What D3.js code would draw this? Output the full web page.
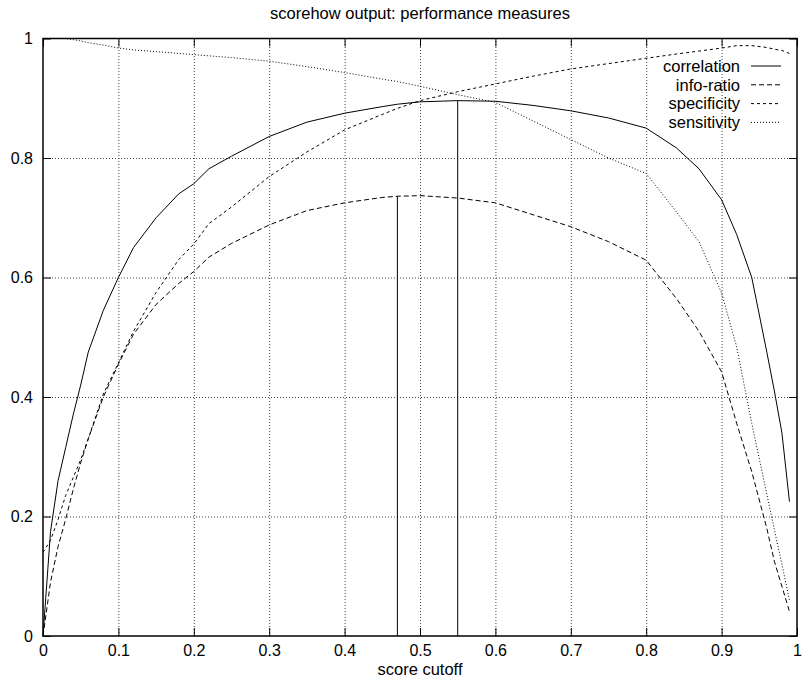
<!DOCTYPE html>
<html>
<head>
<meta charset="utf-8">
<script src="https://cdn.jsdelivr.net/npm/d3@7"></script>
<style>
  body { margin: 0; background: #fff; }
  svg text { font-family: "Liberation Sans", Arial, Helvetica, sans-serif; fill: #000; }
</style>
</head>
<body>
<svg id="chart" width="803" height="683"></svg>
<script>
// score cutoffs shared by all series
const cutoffs = [0, 0.01, 0.02, 0.03, 0.04, 0.05, 0.06, 0.08, 0.1, 0.12, 0.15, 0.18, 0.2, 0.22, 0.25,
    0.3, 0.35, 0.4, 0.45, 0.47, 0.5, 0.55, 0.6, 0.65, 0.7, 0.75, 0.8, 0.84, 0.87, 0.9, 0.92, 0.94,
    0.96, 0.97, 0.98, 0.99];

const correlation = [0, 0.175, 0.26, 0.315, 0.37, 0.42, 0.475, 0.545, 0.60, 0.65, 0.70, 0.74, 0.757, 0.782, 0.803,
    0.836, 0.86, 0.875, 0.886, 0.89, 0.894, 0.896, 0.895, 0.888, 0.879, 0.867, 0.85, 0.817, 0.782, 0.73, 0.672, 0.60,
    0.475, 0.41, 0.34, 0.225];

const infoRatio = [0, 0.09, 0.15, 0.195, 0.245, 0.29, 0.33, 0.40, 0.455, 0.505, 0.555, 0.59, 0.61, 0.634, 0.657,
    0.688, 0.712, 0.725, 0.734, 0.736, 0.737, 0.733, 0.725, 0.705, 0.685, 0.66, 0.629, 0.565, 0.51, 0.442, 0.356, 0.275,
    0.18, 0.125, 0.083, 0.041];

const specificity = [0.14, 0.16, 0.195, 0.235, 0.265, 0.295, 0.33, 0.405, 0.457, 0.51, 0.575, 0.63, 0.656, 0.69, 0.718,
    0.769, 0.81, 0.847, 0.873, 0.883, 0.896, 0.911, 0.924, 0.937, 0.949, 0.958, 0.967, 0.974, 0.979, 0.984, 0.988, 0.988,
    0.985, 0.982, 0.98, 0.975];

const sensitivity = [1.0, 1.0, 1.0, 1.0, 0.998, 0.996, 0.993, 0.989, 0.984, 0.981, 0.978, 0.975, 0.973, 0.971, 0.968,
    0.962, 0.953, 0.943, 0.932, 0.928, 0.92, 0.906, 0.893, 0.862, 0.831, 0.80, 0.774, 0.71, 0.66, 0.574, 0.484, 0.356,
    0.237, 0.178, 0.12, 0.06];

const seriesNames = ["correlation", "info-ratio", "specificity", "sensitivity"];
const seriesValues = [correlation, infoRatio, specificity, sensitivity];
const seriesDash = [null, "5,3", "3,3", "1,2"];

// vertical markers at the best cutoffs
const peakCutoffs = [0.47, 0.55];
const peakValues = [0.736, 0.896];

const xTicks = [0, 0.1, 0.2, 0.3, 0.4, 0.5, 0.6, 0.7, 0.8, 0.9, 1];
const yTicks = [0, 0.2, 0.4, 0.6, 0.8, 1];

const svg = d3.select("#chart"),
      plotLeft = 43, plotRight = 797, plotTop = 38.5, plotBottom = 636;

const x = d3.scaleLinear().domain([0, 1]).range([plotLeft, plotRight]);
const y = d3.scaleLinear().domain([0, 1]).range([plotBottom, plotTop]);

const fmt = d => d === 0 || d === 1 ? String(d) : d.toFixed(1);

// grid
svg.append("g")
    .attr("transform", `translate(0,${plotBottom})`)
    .call(d3.axisBottom(x).tickValues(xTicks.slice(1, -1)).tickSize(-(plotBottom - plotTop)).tickFormat(""))
    .call(g => g.select(".domain").remove())
    .selectAll("line").attr("stroke", "#444").attr("stroke-dasharray", "1,2");

svg.append("g")
    .attr("transform", `translate(${plotLeft},0)`)
    .call(d3.axisLeft(y).tickValues(yTicks.slice(1, -1)).tickSize(-(plotRight - plotLeft)).tickFormat(""))
    .call(g => g.select(".domain").remove())
    .selectAll("line").attr("stroke", "#444").attr("stroke-dasharray", "1,2");

// axes with inward ticks
const styleAxis = g => {
    g.select(".domain").remove();
    g.selectAll("line").attr("stroke", "#000");
    g.selectAll("text").style("font-size", "16px").style("font-family", "Liberation Sans, Arial, sans-serif");
};

svg.append("g")
    .attr("transform", `translate(0,${plotBottom})`)
    .call(d3.axisBottom(x).tickValues(xTicks).tickSizeInner(-8).tickSizeOuter(0).tickPadding(9).tickFormat(fmt))
    .call(styleAxis);

svg.append("g")
    .attr("transform", `translate(0,${plotTop})`)
    .call(d3.axisTop(x).tickValues(xTicks).tickSizeInner(-8).tickSizeOuter(0).tickFormat(""))
    .call(styleAxis);

svg.append("g")
    .attr("transform", `translate(${plotLeft},0)`)
    .call(d3.axisLeft(y).tickValues(yTicks).tickSizeInner(-8).tickSizeOuter(0).tickPadding(10).tickFormat(fmt))
    .call(styleAxis);

svg.append("g")
    .attr("transform", `translate(${plotRight},0)`)
    .call(d3.axisRight(y).tickValues(yTicks).tickSizeInner(-8).tickSizeOuter(0).tickFormat(""))
    .call(styleAxis);

// frame
svg.append("rect")
    .attr("x", plotLeft).attr("y", plotTop)
    .attr("width", plotRight - plotLeft).attr("height", plotBottom - plotTop)
    .attr("fill", "none").attr("stroke", "#000").attr("stroke-width", 1.5);

// title and axis label
svg.append("text")
    .attr("x", (plotLeft + plotRight) / 2).attr("y", 19)
    .attr("text-anchor", "middle").style("font-size", "16.5px")
    .text("scorehow output: performance measures");

svg.append("text")
    .attr("x", (plotLeft + plotRight) / 2).attr("y", 675)
    .attr("text-anchor", "middle").style("font-size", "16.5px")
    .text("score cutoff");

// curves
const line = d3.line()
    .x((d, i) => x(cutoffs[i]))
    .y(d => y(d));

seriesValues.forEach((vals, k) => {
    svg.append("path")
        .datum(vals)
        .attr("d", line)
        .attr("fill", "none")
        .attr("stroke", "#000")
        .attr("stroke-width", 1)
        .attr("stroke-dasharray", seriesDash[k]);
});

// peak markers
svg.selectAll(".peak")
    .data(peakCutoffs)
    .join("line")
    .attr("class", "peak")
    .attr("x1", d => x(d)).attr("x2", d => x(d))
    .attr("y1", y(0))
    .attr("y2", (d, i) => y(peakValues[i]))
    .attr("stroke", "#000").attr("stroke-width", 1);

// legend
const legend = svg.selectAll(".legend")
    .data(seriesNames)
    .join("g")
    .attr("class", "legend")
    .attr("transform", (d, i) => `translate(0,${66 + i * 18.8})`);

legend.append("text")
    .attr("x", 740).attr("dy", "0.35em")
    .attr("text-anchor", "end").style("font-size", "16.5px")
    .text(d => d);

legend.append("line")
    .attr("x1", 751).attr("x2", 781)
    .attr("stroke", "#000").attr("stroke-width", 1)
    .attr("stroke-dasharray", (d, i) => seriesDash[i]);
</script>
</body>
</html>
